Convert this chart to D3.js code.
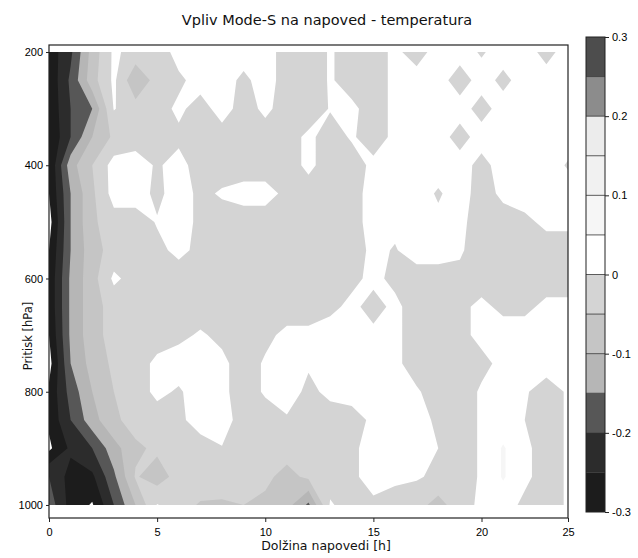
<!DOCTYPE html>
<html>
<head>
<meta charset="utf-8">
<script src="https://cdn.jsdelivr.net/npm/d3@7"></script>
<style>
  body { margin: 0; background: #fff; }
  svg { font-family: "DejaVu Sans", sans-serif; }
</style>
</head>
<body>
<svg id="chart" width="638" height="558"></svg>
<script>
'use strict';

// forecast length [h] (columns) and pressure levels [hPa] (rows)
var hours = [0, 1, 2, 3, 4, 5, 6, 7, 8, 9, 10, 11, 12, 13, 14, 15, 16, 17, 18, 19, 20, 21, 22, 23, 24];
var pressures = [200, 250, 300, 350, 400, 450, 500, 550, 600, 650, 700, 750, 800, 850, 900, 950, 1000];

// Mode-S impact on temperature, one row per pressure level
var diff = [
  [-0.28, -0.21, -0.08, 0.01, -0.02, -0.03, 0.02, 0.02, 0.02, 0.02, 0.02, -0.02, -0.03, 0.005, -0.02, -0.02, 0.01, -0.02, 0.02, 0.02, -0.005, 0.02, 0.02, -0.015, 0.02],   // 200
  [-0.29, -0.19, -0.07, 0.01, -0.09, -0.03, -0.01, 0.02, 0.02, -0.01, 0.02, -0.02, -0.03, 0.005, -0.02, -0.02, 0.01, 0.02, 0.02, -0.023, 0.02, -0.012, 0.02, 0.02, 0.02], // 250
  [-0.29, -0.2, -0.15, 0.003, -0.03, -0.02, 0.01, -0.02, 0.02, -0.02, 0.01, -0.02, -0.03, 0.003, 0.01, -0.02, 0.01, 0.02, 0.02, 0.02, -0.018, 0.02, 0.02, 0.02, 0.02],    // 300
  [-0.3, -0.2, -0.1, -0.04, -0.02, -0.02, -0.01, -0.02, -0.02, -0.02, -0.02, -0.02, 0.01, -0.02, 0.005, -0.02, 0.01, 0.02, 0.02, -0.018, 0.02, 0.02, 0.02, 0.02, 0.02],  // 350
  [-0.3, -0.12, -0.05, 0.02, 0.02, -0.005, 0.015, -0.02, -0.02, -0.02, -0.02, -0.02, 0.01, -0.02, -0.02, 0.01, 0.02, 0.02, 0.02, 0.02, -0.015, 0.02, 0.02, 0.02, -0.004], // 400
  [-0.3, -0.15, -0.06, 0.02, 0.02, -0.01, 0.02, -0.01, 0.005, 0.015, 0.015, -0.01, -0.02, -0.02, -0.01, 0.01, 0.01, 0.02, -0.005, 0.02, -0.02, 0.01, 0.02, 0.02, 0.02],  // 450
  [-0.32, -0.15, -0.06, -0.02, -0.02, 0.003, 0.02, -0.01, -0.02, -0.02, -0.02, -0.02, -0.02, -0.02, -0.01, 0.01, 0.01, 0.02, 0.01, 0.01, -0.02, -0.02, -0.01, 0.01, 0.01], // 500
  [-0.3, -0.15, -0.07, -0.03, -0.02, -0.01, 0.01, -0.01, -0.02, -0.02, -0.02, -0.02, -0.02, -0.02, -0.02, 0.01, -0.003, 0.02, 0.02, 0.005, -0.02, -0.03, -0.03, -0.02, -0.02], // 550
  [-0.29, -0.14, -0.07, 0.01, -0.02, -0.02, -0.02, -0.02, -0.02, -0.02, -0.02, -0.02, -0.02, -0.02, -0.01, 0.01, -0.01, -0.02, -0.02, -0.01, -0.02, -0.03, -0.02, -0.02, -0.02], // 600
  [-0.29, -0.14, -0.07, -0.03, -0.02, -0.02, -0.02, -0.02, -0.02, -0.02, -0.02, -0.02, -0.02, -0.01, 0.01, -0.015, 0.01, -0.02, -0.02, -0.01, 0.01, -0.01, -0.01, 0.01, 0.01], // 650
  [-0.3, -0.14, -0.07, -0.03, -0.02, -0.02, -0.01, 0.005, -0.01, -0.02, -0.01, 0.01, 0.01, 0.02, 0.02, 0.01, 0.01, -0.02, -0.02, -0.01, 0.01, 0.02, 0.02, 0.02, 0.01],    // 700
  [-0.32, -0.15, -0.08, -0.04, -0.02, 0.01, 0.02, 0.02, 0.01, -0.02, 0.005, 0.02, 0.005, 0.02, 0.02, 0.02, 0.01, -0.02, -0.02, -0.02, -0.01, 0.01, 0.02, 0.02, 0.02],    // 750
  [-0.29, -0.18, -0.1, -0.05, -0.02, 0.01, -0.005, 0.02, 0.01, -0.02, 0.005, 0.02, -0.01, 0.01, 0.01, 0.01, 0.005, 0.005, -0.02, -0.02, 0.005, 0.02, 0.005, -0.02, 0.005], // 800
  [-0.29, -0.2, -0.12, -0.06, -0.03, -0.02, -0.01, 0.02, 0.02, -0.02, -0.02, -0.005, -0.02, -0.02, -0.01, 0.005, 0.01, 0.01, -0.005, -0.02, 0.005, 0.02, 0.0, -0.02, 0.005], // 850
  [-0.31, -0.24, -0.2, -0.12, -0.06, -0.04, -0.02, -0.02, -0.002, -0.02, -0.02, -0.03, -0.02, -0.02, -0.01, 0.02, 0.02, 0.02, 0.0, -0.02, 0.005, 0.055, 0.01, -0.02, 0.005], // 900
  [-0.2, -0.27, -0.26, -0.16, -0.045, -0.075, -0.03, -0.02, -0.03, -0.03, -0.04, -0.065, -0.04, -0.02, -0.01, 0.02, 0.01, 0.005, -0.01, -0.02, 0.005, 0.055, 0.01, -0.02, 0.005], // 950
  [-0.17, -0.27, -0.305, -0.2, -0.1, 0.003, -0.03, -0.055, -0.055, -0.05, -0.06, -0.08, -0.16, 0.005, -0.02, -0.01, -0.02, -0.03, -0.07, -0.02, 0.01, 0.02, -0.01, -0.02, 0.005] // 1000
];

// contour levels and the grey of each band (low -> high)
var levels = [-0.3, -0.25, -0.2, -0.15, -0.1, -0.05, 0, 0.05, 0.1, 0.15, 0.2, 0.25, 0.3];
var bandColors = ['#1c1c1c', '#2c2c2c', '#575757', '#b6b6b6', '#c5c5c5', '#d4d4d4',
                  '#ffffff', '#f6f6f6', '#f1f1f1', '#ececec', '#8c8c8c', '#4d4d4d'];

var xTicks = [0, 5, 10, 15, 20, 24];
var xTickLabels = ['0', '5', '10', '15', '20', '25'];
var yTicks = [200, 400, 600, 800, 1000];
var pLimits = [187.6, 1023];
var cbTicks = [-0.3, -0.2, -0.1, 0, 0.1, 0.2, 0.3];
var cbTickLabels = ['-0.3', '-0.2', '-0.1', '0', '0.1', '0.2', '0.3'];

var svg = d3.select('#chart');
var box = {left: 49, right: 568, top: 45, bottom: 518};

var x = d3.scaleLinear().domain(d3.extent(hours)).range([box.left, box.right]);
var y = d3.scaleLinear().domain(pLimits).range([box.top, box.bottom]);

// grid coords from d3.contours -> data coords (sample i sits at i + 0.5)
var nx = hours.length, ny = pressures.length;
var gx = d3.scaleLinear().domain([0.5, nx - 0.5])
  .range([hours[0], hours[nx - 1]]).clamp(true);
var gy = d3.scaleLinear().domain([0.5, ny - 0.5])
  .range([pressures[0], pressures[ny - 1]]).clamp(true);
var path = d3.geoPath(d3.geoTransform({
  point: function(px, py) { this.stream.point(x(gx(px)), y(gy(py))); }
}));

var flat = [].concat.apply([], diff);
var neg = flat.map(function(v) { return -v; });
var contour = d3.contours().size([nx, ny]).smooth(true);

// Negative bands are painted as "v <= t" regions (contours of -v) so isolated
// grey spots stay separate; positive bands as "v >= t" on top of a white base.
var layers = [];
for (var i = 5; i >= 0; i--)
  layers.push({field: neg, t: -levels[i + 1], color: bandColors[i]});
layers.push({field: neg, t: -levels[0], color: '#fff'});
for (i = 7; i < bandColors.length; i++)
  layers.push({field: flat, t: levels[i], color: bandColors[i]});

svg.append('clipPath').attr('id', 'plotclip').append('rect')
  .attr('x', box.left).attr('y', box.top)
  .attr('width', box.right - box.left).attr('height', box.bottom - box.top);

var plot = svg.append('g').attr('clip-path', 'url(#plotclip)');
plot.append('rect')
  .attr('x', box.left).attr('y', box.top)
  .attr('width', box.right - box.left).attr('height', box.bottom - box.top)
  .attr('fill', '#fff');

plot.selectAll('path.band').data(layers).enter().append('path')
  .attr('class', 'band')
  .attr('d', function(l) { return path(contour.contour(l.field, l.t)); })
  .attr('fill', function(l) { return l.color; })
  .attr('fill-rule', 'evenodd');

// axes
var xAxis = svg.append('g')
  .attr('transform', 'translate(0,' + box.bottom + ')')
  .call(d3.axisBottom(x).tickValues(xTicks)
        .tickFormat(function(d, i) { return xTickLabels[i]; })
        .tickSize(4).tickPadding(6));
var yAxis = svg.append('g')
  .attr('transform', 'translate(' + box.left + ',0)')
  .call(d3.axisLeft(y).tickValues(yTicks).tickFormat(d3.format('d'))
        .tickSize(3).tickPadding(3));
[xAxis, yAxis].forEach(function(a) {
  a.select('.domain').remove();
  a.selectAll('text').style('font-size', '11px').attr('fill', '#000');
  a.selectAll('line').attr('stroke', '#222');
});

svg.append('rect')
  .attr('x', box.left).attr('y', box.top)
  .attr('width', box.right - box.left).attr('height', box.bottom - box.top)
  .attr('fill', 'none').attr('stroke', '#222').attr('stroke-width', 1.2);

// colour bar
var cb = {left: 586, width: 19};
var cbY = d3.scaleLinear().domain([levels[0], levels[levels.length - 1]]).range([512, 37]);
var cbg = svg.append('g');
cbg.selectAll('rect').data(levels.slice(0, -1)).enter().append('rect')
  .attr('x', cb.left).attr('width', cb.width)
  .attr('y', function(t, i) { return cbY(levels[i + 1]); })
  .attr('height', function(t, i) { return cbY(t) - cbY(levels[i + 1]); })
  .attr('fill', function(t, i) { return bandColors[i]; });
cbg.selectAll('line.sep').data(levels.slice(1, -1)).enter().append('line')
  .attr('class', 'sep')
  .attr('x1', cb.left).attr('x2', cb.left + cb.width)
  .attr('y1', cbY).attr('y2', cbY)
  .attr('stroke', '#333').attr('stroke-width', 0.8);
cbg.append('rect')
  .attr('x', cb.left).attr('y', cbY.range()[1])
  .attr('width', cb.width).attr('height', cbY.range()[0] - cbY.range()[1])
  .attr('fill', 'none').attr('stroke', '#222').attr('stroke-width', 1);
var cbAxis = svg.append('g')
  .attr('transform', 'translate(' + (cb.left + cb.width) + ',0)')
  .call(d3.axisRight(cbY).tickValues(cbTicks)
        .tickFormat(function(d, i) { return cbTickLabels[i]; })
        .tickSize(4).tickPadding(3));
cbAxis.select('.domain').remove();
cbAxis.selectAll('text').style('font-size', '11px').attr('fill', '#000');
cbAxis.selectAll('line').attr('stroke', '#222');

// titles
svg.append('text')
  .attr('x', 327).attr('y', 25).attr('text-anchor', 'middle')
  .style('font-size', '14.5px').attr('fill', '#111')
  .text('Vpliv Mode-S na napoved - temperatura');
svg.append('text')
  .attr('x', 326).attr('y', 550).attr('text-anchor', 'middle')
  .style('font-size', '12.5px').attr('fill', '#111')
  .text('Dolžina napovedi [h]');
svg.append('text')
  .attr('transform', 'translate(32,336) rotate(-90)').attr('text-anchor', 'middle')
  .style('font-size', '11.5px').attr('fill', '#111')
  .text('Pritisk [hPa]');
</script>
</body>
</html>
